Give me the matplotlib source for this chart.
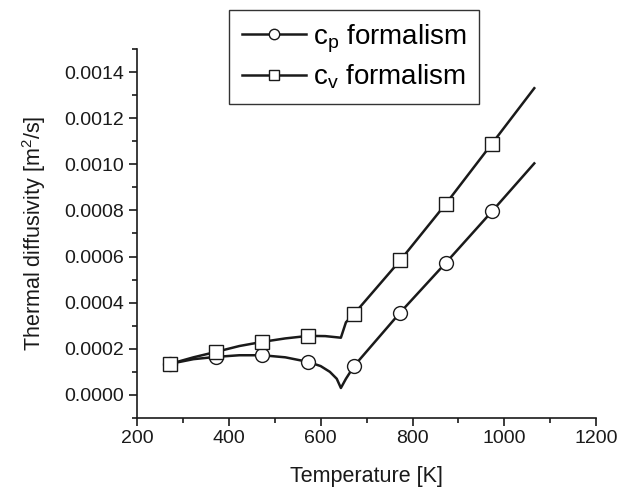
import numpy as np
import matplotlib
matplotlib.use('Agg')
import matplotlib.pyplot as plt
from matplotlib.ticker import MultipleLocator, FormatStrFormatter

plt.rcParams.update({
    'font.family': ['Liberation Sans', 'DejaVu Sans'],
    'mathtext.default': 'regular',
    'xtick.direction': 'out', 'ytick.direction': 'out',
})

# ── Data ────────────────────────────────────────────────────────────────────
T_cp = [273, 323, 373, 423, 473, 523, 573, 600, 620, 635, 644, 655, 673,
        773, 873, 973, 1065]
D_cp = [0.000135, 0.000155, 0.000165, 0.000172, 0.000172, 0.000163,
        0.000143, 0.000125, 0.000100, 0.000070, 0.000030, 0.000070,
        0.000126, 0.000357, 0.000574, 0.000796, 0.001004]

T_cv = [273, 323, 373, 423, 473, 523, 573, 610, 644, 655, 673,
        773, 873, 973, 1065]
D_cv = [0.000135, 0.000163, 0.000187, 0.000212, 0.000230, 0.000245,
        0.000256, 0.000255, 0.000248, 0.000315, 0.000352,
        0.000583, 0.000830, 0.001090, 0.001330]

T_mark = [273, 373, 473, 573, 673, 773, 873, 973]

fig = plt.figure(figsize=(6.31, 4.90), dpi=100)
ax = fig.add_axes([0.217, 0.147, 0.728, 0.753])

lw = 1.8
ink = '#1a1a1a'
cp_mark = np.interp(T_mark, T_cp, D_cp)
cv_mark = np.interp(T_mark, T_cv, D_cv)

ax.plot(T_cp, D_cp, color=ink, lw=lw)
ax.plot(T_mark, cp_mark, ls='none', marker='o', ms=10, mfc='white',
        mec=ink, mew=1.0)
ax.plot(T_cv, D_cv, color=ink, lw=lw)
ax.plot(T_mark, cv_mark, ls='none', marker='s', ms=9.5, mfc='white',
        mec=ink, mew=1.0)

# legend proxies
h1, = ax.plot([], [], color=ink, lw=lw, marker='o', ms=10,
              mfc='white', mec=ink, mew=1.0, label='c$_p$ formalism')
h2, = ax.plot([], [], color=ink, lw=lw, marker='s', ms=9.5,
              mfc='white', mec=ink, mew=1.0, label='c$_v$ formalism')
fig.legend(handles=[h1, h2], loc='upper center',
           bbox_to_anchor=(0.561, 0.98), fontsize=20, handlelength=2.3,
           markerscale=0.75, frameon=True, fancybox=False,
           edgecolor='#333333', framealpha=1, borderpad=0.45,
           labelspacing=0.3, handletextpad=0.25, borderaxespad=0)

ax.set_xlim(200, 1200)
ax.set_ylim(-0.0001, 0.0015)
ax.xaxis.set_major_locator(MultipleLocator(200))
ax.xaxis.set_minor_locator(MultipleLocator(100))
ax.yaxis.set_minor_locator(MultipleLocator(0.0001))
ax.yaxis.set_major_formatter(FormatStrFormatter('%.4f'))
ax.set_yticks(np.arange(0, 0.00141, 0.0002))

ax.spines['top'].set_visible(False)
ax.spines['right'].set_visible(False)
for s in ('left', 'bottom'):
    ax.spines[s].set_linewidth(1.2)
    ax.spines[s].set_color(ink)
ax.tick_params(which='major', length=6, width=1.2, labelsize=14,
               colors=ink, pad=3)
ax.tick_params(which='minor', length=3.5, width=1.2, colors=ink)

ax.set_xlabel('Temperature [K]', fontsize=15.5, color=ink, labelpad=13)
ax.set_ylabel('Thermal diffusivity [m$^2$/s]', fontsize=15.5,
              color=ink, labelpad=12)

plt.savefig('out.png', dpi=100)
